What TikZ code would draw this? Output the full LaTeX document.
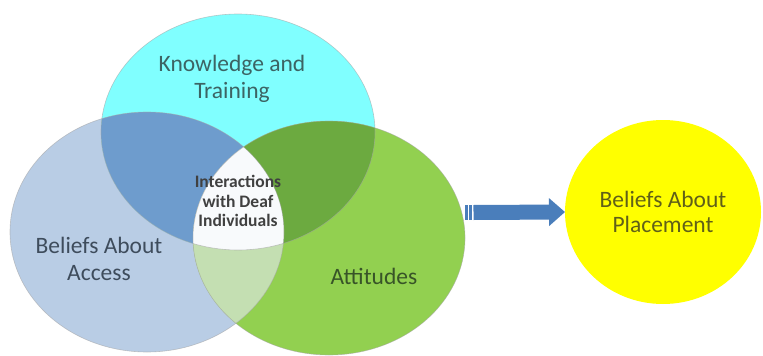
\documentclass[tikz,border=0pt]{standalone}
\usepackage{fontspec}
\setmainfont{Carlito}
\usetikzlibrary{arrows.meta}
\usetikzlibrary{shapes.geometric}
\definecolor{kcyan}{RGB}{128,255,255}
\definecolor{ablue}{RGB}{185,205,229}
\definecolor{tgreen}{RGB}{146,208,80}
\definecolor{kablue}{RGB}{110,156,205}
\definecolor{ktgreen}{RGB}{108,170,64}
\definecolor{atgreen}{RGB}{196,223,178}
\definecolor{midwhite}{RGB}{248,250,252}
\definecolor{pyellow}{RGB}{255,255,0}
\definecolor{arrblue}{RGB}{74,126,187}
\definecolor{ktext}{RGB}{60,100,100}
\definecolor{atext}{RGB}{62,76,92}
\definecolor{ttext}{RGB}{56,84,40}
\definecolor{itext}{RGB}{64,64,64}
\definecolor{ptext}{RGB}{96,96,24}
\tikzset{vennlabel/.style = {align=center, inner sep=0pt,
                             font=\fontsize{23.5}{27}\selectfont}}
\tikzset{centerlabel/.style = {align=center, inner sep=0pt, text=itext,
                              font=\bfseries\fontsize{17.5}{19.5}\selectfont}}
\tikzset{outline/.style = {draw=gray!70, line width=0.6pt, opacity=0.6}}

\begin{document}
\begin{tikzpicture}[x=1pt, y=-1pt]
      \useasboundingbox (0,0) rectangle (763,356);

      \coordinate (access) at (147,232);
      \coordinate (know) at (238,132);
      \coordinate (att) at (329,238);

      \fill [ablue] (access) ellipse (137pt and 120pt);
      \fill [kcyan] (know) ellipse (137pt and 118pt);
      \fill [tgreen] (att) ellipse (136pt and 117pt);

      \begin{scope}
        \clip (access) ellipse (137pt and 120pt);
        \fill [kablue] (know) ellipse (137pt and 118pt);
        \fill [atgreen] (att) ellipse (136pt and 117pt);
        \clip (know) ellipse (137pt and 118pt);
        \fill [midwhite] (att) ellipse (136pt and 117pt);
      \end{scope}
      \begin{scope}
        \clip (att) ellipse (136pt and 117pt);
        \clip (know) ellipse (137pt and 118pt);
        \fill [ktgreen, even odd rule] (access) ellipse (137pt and 120pt) (0,0) rectangle (763,356);
      \end{scope}

      \draw [outline] (access) ellipse (137pt and 120pt);
      \draw [outline] (know) ellipse (137pt and 118pt);
      \draw [outline] (att) ellipse (136pt and 117pt);

      \node [vennlabel, text=ktext] (knowtext) at (232,79) {Knowledge and\\Training};
      \node [vennlabel, text=atext] (accesstext) at (99,259) {Beliefs About\\Access};
      \node [vennlabel, text=ttext] (atttext) at (374,276) {Attitudes};
      \node [centerlabel] (interact) at (238,201) {Interactions\\with Deaf\\Individuals};

      \node [ellipse, fill=pyellow, inner sep=0pt, outer sep=0pt,
             minimum width=196pt, minimum height=184pt,
             text=ptext, align=center, font=\fontsize{23.5}{25.5}\selectfont]
            (place) at (663,212) {Beliefs About\\Placement};

      % striped arrow
      \coordinate (arrstart) at (465,212.5);
      \draw [arrblue, line width=15pt] (arrstart) -- ++(3,0);
      \draw [arrblue, line width=15pt] ([xshift=4pt]arrstart) -- ++(3,0);
      \draw [arrblue, line width=15pt, -{Triangle[length=16pt, width=27pt]}]
            ([xshift=8.5pt]arrstart) -- (place.west);
    \end{tikzpicture}
\end{document}
